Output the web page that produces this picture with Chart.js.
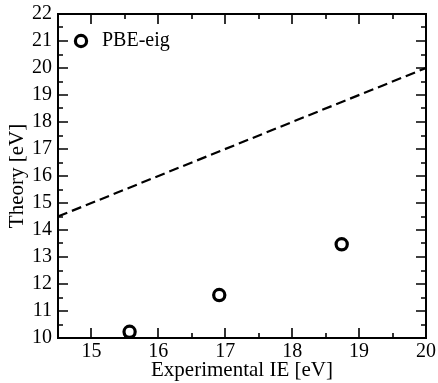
<!DOCTYPE html>
<html>
<head>
<meta charset="utf-8">
<script src="https://cdn.jsdelivr.net/npm/chart.js@4/dist/chart.umd.min.js"></script>
<style>
  html, body { margin: 0; padding: 0; background: #fff; }
  #wrap { width: 438px; height: 383px; }
</style>
</head>
<body>
<div id="wrap"><canvas id="chart"></canvas></div>
<script>
// values
const expIE = [15.57, 16.91, 18.74];
const pbeEig = [10.23, 11.59, 13.47];
const diagX = [14.5, 20];
const seriesLabel = 'PBE-eig';
const xTitle = 'Experimental IE [eV]';
const yTitle = 'Theory [eV]';
const xRange = [14.5, 20];
const yRange = [10, 22];
const xTickValues = [15, 16, 17, 18, 19, 20];

const FONT = "'Liberation Serif', 'DejaVu Serif', serif";

// inward ticks on all four sides, frame and legend
const framePlugin = {
    id: 'frame',
    afterDraw(chart) {
        const { ctx, chartArea: a, scales } = chart;
        const xs = scales.x, ys = scales.y;
        ctx.save();
        ctx.strokeStyle = '#000';
        ctx.lineWidth = 2;
        ctx.strokeRect(a.left, a.top, a.right - a.left, a.bottom - a.top);

        ctx.lineWidth = 1.6;
        ctx.beginPath();
        for (let v = xRange[0]; v <= xRange[1] + 1e-9; v += 0.5) {
            const px = Math.round(xs.getPixelForValue(v));
            const len = Number.isInteger(v) ? 10 : 5;
            ctx.moveTo(px, a.bottom); ctx.lineTo(px, a.bottom - len);
            ctx.moveTo(px, a.top); ctx.lineTo(px, a.top + len);
        }
        for (let v = yRange[0]; v <= yRange[1] + 1e-9; v += 0.5) {
            const py = Math.round(ys.getPixelForValue(v));
            const len = Number.isInteger(v) ? 10 : 5;
            ctx.moveTo(a.left, py); ctx.lineTo(a.left + len, py);
            ctx.moveTo(a.right, py); ctx.lineTo(a.right - len, py);
        }
        ctx.stroke();

        // legend
        const lx = a.left + 23, ly = a.top + 27;
        ctx.lineWidth = 3.2;
        ctx.beginPath();
        ctx.arc(lx, ly, 5.6, 0, Math.PI * 2);
        ctx.stroke();
        ctx.fillStyle = '#000';
        ctx.font = '20px ' + FONT;
        ctx.textBaseline = 'middle';
        ctx.fillText(seriesLabel, lx + 21, ly);
        ctx.restore();
    }
};

new Chart(document.getElementById('chart'), {
    type: 'scatter',
    data: {
        datasets: [
            {
                label: seriesLabel,
                data: expIE.map((x, i) => ({ x: x, y: pbeEig[i] })),
                pointStyle: 'circle',
                pointRadius: 5.6,
                pointBorderWidth: 3.2,
                borderColor: '#000',
                backgroundColor: 'rgba(0,0,0,0)',
                showLine: false
            },
            {
                label: 'y=x',
                data: diagX.map(x => ({ x: x, y: x })),
                showLine: true,
                borderColor: '#000',
                borderWidth: 2.2,
                borderDash: [10, 5],
                pointRadius: 0
            }
        ]
    },
    options: {
        responsive: true,
        maintainAspectRatio: false,
        animation: false,
        layout: { padding: { top: 14, right: 12, left: 0, bottom: 0 } },
        plugins: { legend: { display: false }, tooltip: { enabled: false } },
        scales: {
            x: {
                type: 'linear',
                min: xRange[0], max: xRange[1],
                afterFit: s => { s.height = 45; s.paddingLeft = 0; s.paddingRight = 0; },
                afterBuildTicks: s => { s.ticks = xTickValues.map(v => ({ value: v })); },
                grid: { display: false, drawTicks: false },
                border: { display: false },
                ticks: { color: '#000', padding: 2, maxRotation: 0, font: { family: FONT, size: 20 } },
                title: { display: true, text: xTitle, color: '#000', padding: { top: 0, bottom: 0 }, font: { family: FONT, size: 21 } }
            },
            y: {
                type: 'linear',
                min: yRange[0], max: yRange[1],
                afterFit: s => { s.width = 58; s.paddingTop = 0; s.paddingBottom = 0; },
                ticks: { stepSize: 1, color: '#000', padding: 6, font: { family: FONT, size: 20 } },
                grid: { display: false, drawTicks: false },
                border: { display: false },
                title: { display: true, text: yTitle, color: '#000', padding: { top: 5, bottom: 0 }, font: { family: FONT, size: 21 } }
            }
        }
    },
    plugins: [framePlugin]
});
</script>
</body>
</html>
